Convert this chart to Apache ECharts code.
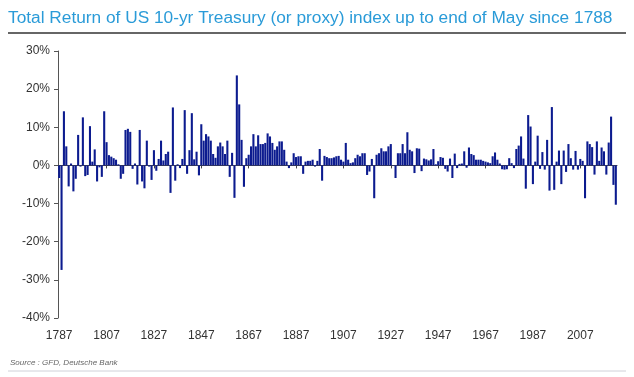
<!DOCTYPE html>
<html>
<head>
<meta charset="utf-8">
<script src="https://cdn.jsdelivr.net/npm/echarts@6/dist/echarts.min.js"></script>
<style>
  html, body { margin: 0; padding: 0; background: #fff; }
  #chart { width: 634px; height: 377px; }
</style>
</head>
<body>
<div id="chart"></div>
<script>
// total return (%) per year, up to end of May
var firstYear = 1787;
var returns1787 = [
  -3.3, -27.4, 14.2, 5.0, -5.5, 0.5, -6.8, -3.5, 8.0, -0.3,
  12.6, -2.8, -2.5, 10.3, 1.0, 4.2, -4.2, -0.5, -3.0, 14.2,
  6.1, 2.7, 2.3, 1.9, 1.5, 0.3, -3.5, -2.2, 9.3, 9.6,
  8.8, -0.9, 0.5, -5.0, 9.3, -4.2, -6.0, 6.5, -0.3, -3.8,
  4.0, -1.4, 1.7, 6.5, 1.3, 3.0, 3.6, -7.2, 15.2, -4.0,
  0.3, -0.7, 1.7, 14.5, -2.2, 4.0, 13.7, 1.6, 3.6, -2.6
];
var returns1847 = [
  10.8, 6.5, 8.2, 7.6, 6.5, 3.0, 2.0, 5.0, 6.0, 5.0,
  3.0, 6.5, -3.0, 3.3, -8.5, 23.6, 16.0, 6.7, -5.6, 1.9,
  2.8, 5.0, 8.2, 5.0, 7.9, 5.6, 5.6, 5.9, 8.4, 7.6,
  5.9, 4.1, 5.0, 6.3, 6.3, 4.1, 1.0, -0.7, 0.8, 3.2,
  2.2, 2.4, 2.4, -2.2, 1.0, 1.2, 1.2, 1.5, -0.3, 1.2,
  4.3, -4.0, 2.5, 2.2, 1.9, 1.9, 2.1, 2.4, 2.5, 1.5
];
var returns1907 = [
  1.0, 5.9, 1.5, 0.6, 0.8, 1.9, 2.8, 2.4, 3.2, 3.2,
  -2.5, -1.6, 1.7, -8.6, 2.8, 3.2, 4.5, 3.7, 3.7, 5.0,
  5.6, 0.1, -3.3, 3.2, 3.2, 5.6, 3.2, 8.7, 4.1, 3.7,
  -2.0, 4.5, 4.4, -1.5, 1.8, 1.6, 1.3, 1.6, 4.3, 0.3,
  1.1, 2.2, 2.0, -0.9, -1.6, 1.8, -3.3, 3.1, -0.7, 0.4,
  0.5, 3.7, -0.6, 4.7, 3.0, 2.7, 1.5, 1.5, 1.5, 1.2
];
var returns1967 = [
  1.0, 0.8, 0.6, 2.4, 3.4, 1.5, 0.5, -1.0, -1.1, -1.0,
  1.9, 0.6, -0.7, 4.3, 5.2, 7.6, 1.8, -6.1, 13.2, 10.2,
  -4.9, 1.0, 7.8, -0.9, 3.5, -1.1, 6.7, -6.6, 15.3, -6.4,
  1.0, 3.9, -4.9, 3.9, -1.7, 5.6, 1.9, -1.1, 3.8, -1.1,
  1.7, 1.2, -8.6, 6.3, 5.6, 4.8, -2.4, 6.3, 1.2, 4.7,
  3.7, -2.4, 6.0, 12.8, -5.1, -10.3
];

var returns = returns1787.concat(returns1847, returns1907, returns1967);
var years = [];
for (var i = 0; i < returns.length; i++) {
  years.push(String(firstYear + i));
}

var chart = echarts.init(document.getElementById('chart'), null, { renderer: 'canvas' });
chart.setOption({
  animation: false,
  title: {
    text: 'Total Return of US 10-yr Treasury (or proxy) index up to end of May since 1788',
    left: 3,
    top: 5,
    textStyle: {
      color: '#2a9bd8',
      fontSize: 17.3,
      fontWeight: 'normal',
      fontFamily: 'Liberation Sans'
    }
  },
  graphic: [
    {
      // rule under the title
      type: 'line',
      shape: { x1: 8, y1: 33, x2: 626, y2: 33 },
      style: { stroke: '#666', lineWidth: 2 }
    },
    {
      type: 'text',
      left: 10,
      top: 359,
      style: {
        text: 'Source : GFD, Deutsche Bank',
        fill: '#666',
        font: 'italic 8px "Liberation Sans"'
      }
    },
    {
      type: 'line',
      shape: { x1: 8, y1: 371, x2: 626, y2: 371 },
      style: { stroke: '#d0d0d8', lineWidth: 1 }
    }
  ],
  grid: {
    left: 58,
    right: 17,
    top: 51,
    bottom: 59,
    containLabel: false,
    outerBoundsMode: 'none'
  },
  xAxis: [
    {
      // axis line through 0% with ticks every 20 years
      type: 'category',
      data: years,
      boundaryGap: true,
      axisLine: { onZero: true, lineStyle: { color: '#444', width: 1 } },
      axisTick: { show: true, interval: 19, alignWithLabel: true, length: 3, lineStyle: { color: '#444' } },
      axisLabel: { show: false },
      splitLine: { show: false }
    },
    {
      // year labels along the bottom
      type: 'category',
      data: years,
      position: 'bottom',
      boundaryGap: true,
      axisLine: { show: false, onZero: false },
      axisTick: { show: false },
      axisLabel: {
        interval: 19,
        margin: 12,
        color: '#333',
        fontSize: 12,
        fontFamily: 'Liberation Sans'
      },
      splitLine: { show: false }
    }
  ],
  yAxis: {
    type: 'value',
    min: -40,
    max: 30,
    interval: 10,
    axisLine: { show: true, lineStyle: { color: '#555' } },
    axisTick: { show: true, length: 4, lineStyle: { color: '#555' } },
    axisLabel: {
      formatter: '{value}%',
      color: '#333',
      fontSize: 12,
      margin: 8,
      fontFamily: 'Liberation Sans'
    },
    splitLine: { show: false }
  },
  series: [
    {
      type: 'bar',
      xAxisIndex: 0,
      data: returns,
      barCategoryGap: '12%',
      itemStyle: { color: '#0c1b8f' }
    }
  ]
});
</script>
</body>
</html>
